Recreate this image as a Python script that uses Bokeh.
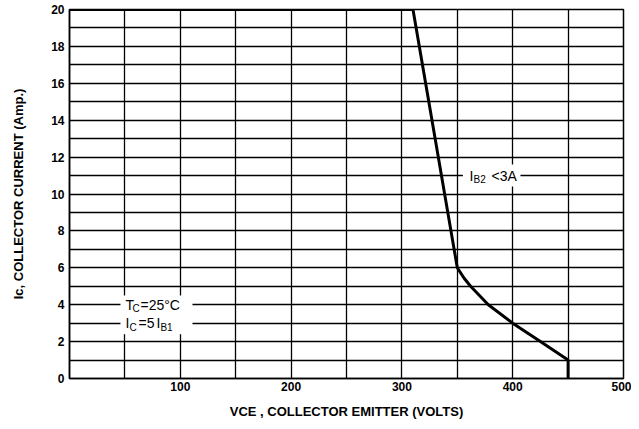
from bokeh.plotting import figure
from bokeh.models import FixedTicker, Label, BoxAnnotation, Range1d
from bokeh.embed import file_html
from bokeh.resources import INLINE

# Data (RBSOA curve)
vce = [0, 310, 350, 356, 362, 378, 400, 425, 450, 450]
ic = [20, 20, 6, 5.45, 5, 4, 3, 2, 1, 0]

x_ticks = [100, 200, 300, 400, 500]
y_ticks = [0, 2, 4, 6, 8, 10, 12, 14, 16, 18, 20]
x_grid = list(range(0, 501, 50))
y_grid = list(range(0, 21, 1))

FONT = "Liberation Sans"

p = figure(width=631, height=421, output_backend="svg", toolbar_location=None,
           x_range=Range1d(0, 500), y_range=Range1d(0, 20),
           min_border_left=69, min_border_right=8, min_border_top=9, min_border_bottom=43)

p.outline_line_color = "black"
p.outline_line_width = 1.5

p.xaxis.ticker = FixedTicker(ticks=x_ticks)
p.yaxis.ticker = FixedTicker(ticks=y_ticks)
p.xgrid.ticker = FixedTicker(ticks=x_grid)
p.ygrid.ticker = FixedTicker(ticks=y_grid)
for g in (p.xgrid, p.ygrid):
    g.grid_line_color = "black"
    g.grid_line_width = 1.3
    g.grid_line_alpha = 1.0

for ax in (p.xaxis, p.yaxis):
    ax.major_tick_out = 0
    ax.major_tick_in = 0
    ax.minor_tick_out = 0
    ax.minor_tick_in = 0
    ax.axis_line_color = "black"
    ax.axis_line_width = 1.5
    ax.major_label_text_font = FONT
    ax.major_label_text_font_style = "bold"
    ax.major_label_text_font_size = "12px"
    ax.major_label_text_color = "black"
    ax.axis_label_text_font = FONT
    ax.axis_label_text_font_style = "bold"
    ax.axis_label_text_font_size = "13px"
    ax.axis_label_text_color = "black"

p.xaxis.major_label_standoff = 3
p.yaxis.major_label_standoff = 5
p.xaxis.axis_label = "VCE , COLLECTOR EMITTER (VOLTS)"
p.yaxis.axis_label = "Ic, COLLECTOR CURRENT (Amp.)"
p.xaxis.axis_label_standoff = 10
p.yaxis.axis_label_standoff = 22

p.line(vce, ic, line_color="black", line_width=3)

# white boxes behind annotations
p.add_layout(BoxAnnotation(left=46, right=111, bottom=2.4, top=4.5,
                           fill_color="white", fill_alpha=1, line_alpha=0))
p.add_layout(BoxAnnotation(left=355, right=407, bottom=10.4, top=11.6,
                           fill_color="white", fill_alpha=1, line_alpha=0))


def piece(x, y, text, dx, dy=0, size="13px"):
    p.add_layout(Label(x=x, y=y, text=text, x_offset=dx, y_offset=dy,
                       text_font=FONT, text_font_size=size, text_color="black",
                       text_baseline="middle", text_align="left"))


# T_C = 25°C
piece(50.5, 4, "T", 0, 0, "14px")
piece(50.5, 4, "C", 7, -4, "10px")
piece(50.5, 4, "=25°C", 15, 0, "14px")
# I_C = 5 I_B1
piece(50.5, 3, "I", 0, 0, "14px")
piece(50.5, 3, "C", 4, -4, "10px")
piece(50.5, 3, "=5", 13, 0, "14px")
piece(50.5, 3, "I", 31, 0, "14px")
piece(50.5, 3, "B1", 35, -4, "10px")
# I_B2 < 3A
piece(361, 11, "I", 0, 0, "14px")
piece(361, 11, "B2", 4, -4, "10px")
piece(361, 11, "<3A", 22, 0, "14px")

open("out.html", "w").write(file_html(p, INLINE))
